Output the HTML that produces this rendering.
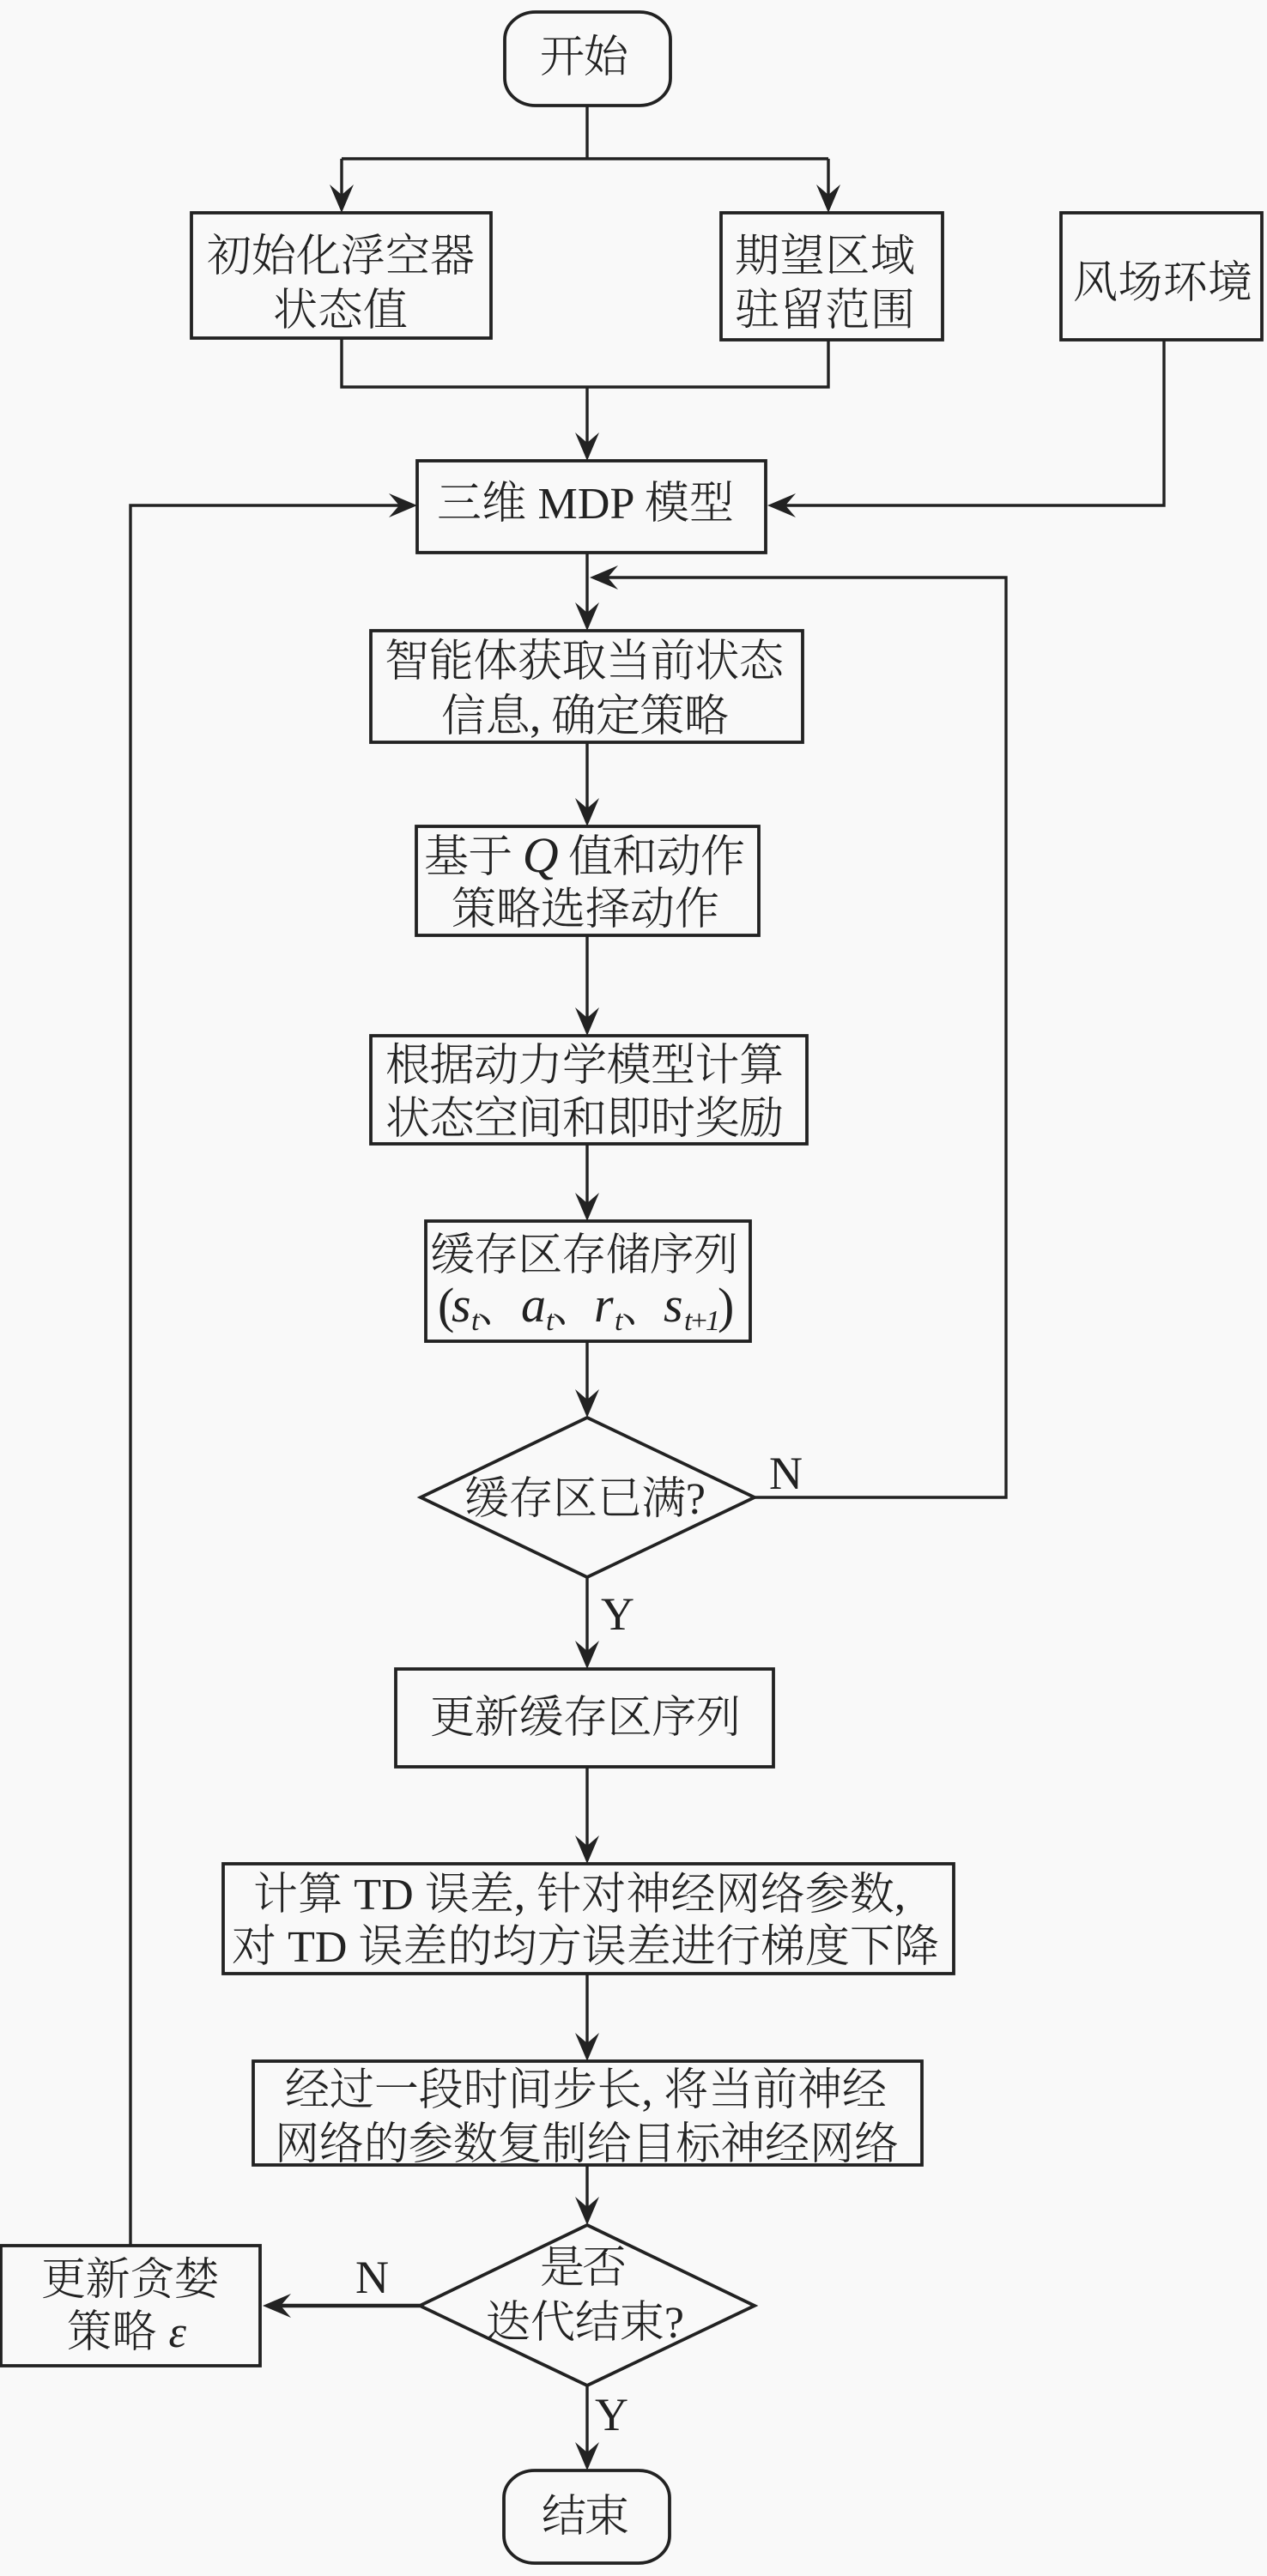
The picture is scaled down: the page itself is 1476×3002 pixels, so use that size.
<!DOCTYPE html>
<html lang="zh">
<head>
<meta charset="utf-8">
<style>
html,body{margin:0;padding:0;background:#f9f9f9}
svg{display:block}
text{font-family:"Liberation Serif","Noto Serif CJK SC",serif;font-size:52px;fill:#222;font-weight:300}
.i{font-style:italic}
.s{font-size:34px}
.m{font-size:58px}
.l{font-size:54px}
.b{fill:none;stroke:#222;stroke-width:3.8;stroke-linejoin:miter}
.c{fill:none;stroke:#222;stroke-width:3.4}
.a{fill:#222}
</style>
</head>
<body>
<svg width="1476" height="3002" viewBox="0 0 1476 3002" xmlns="http://www.w3.org/2000/svg">
<defs>
<path id="d" class="a" d="M0 0 L-14 -33 L0 -21 L14 -33 Z"/>
</defs>
<rect width="1476" height="3002" fill="#f9f9f9"/>

<!-- connectors -->
<path class="c" d="M684 123V185M398 185H965M398 185V240M965 185V240"/>
<path class="c" d="M398 394V451H965V396M684 451V530"/>
<path class="c" d="M1356 396V589H900"/>
<path class="c" d="M152 2617V589H478"/>
<path class="c" d="M684 644V728"/>
<path class="c" d="M879 1745H1172V673H695"/>
<path class="c" d="M684 865V956M684 1090V1200M684 1333V1416M684 1563V1645M684 1838V1940M684 2059V2166M684 2300V2396M684 2523V2586M684 2780V2872"/>
<path class="c" d="M489 2687H315" style="stroke-width:4.5"/>

<!-- arrowheads -->
<use href="#d" x="398" y="248"/>
<use href="#d" x="965" y="248"/>
<use href="#d" x="684" y="537"/>
<use href="#d" x="684" y="735"/>
<use href="#d" x="684" y="963"/>
<use href="#d" x="684" y="1207"/>
<use href="#d" x="684" y="1423"/>
<use href="#d" x="684" y="1652"/>
<use href="#d" x="684" y="1945"/>
<use href="#d" x="684" y="2172"/>
<use href="#d" x="684" y="2402"/>
<use href="#d" x="684" y="2593"/>
<use href="#d" x="684" y="2879"/>
<use href="#d" transform="translate(486 589) rotate(-90)"/>
<use href="#d" transform="translate(894 589) rotate(90)"/>
<use href="#d" transform="translate(687 673) rotate(90)"/>
<use href="#d" transform="translate(306 2687) rotate(90)"/>

<!-- nodes -->
<rect class="b" x="588" y="14" width="193" height="109" rx="36" ry="32"/>
<rect class="b" x="223" y="248" width="349" height="146"/>
<rect class="b" x="840" y="248" width="258" height="148"/>
<rect class="b" x="1236" y="248" width="234" height="148"/>
<rect class="b" x="486" y="537" width="406" height="107"/>
<rect class="b" x="432" y="735" width="503" height="130"/>
<rect class="b" x="485" y="963" width="399" height="127"/>
<rect class="b" x="432" y="1207" width="508" height="126"/>
<rect class="b" x="496" y="1423" width="378" height="140"/>
<path class="b" d="M684 1652L879 1745L684 1838L490 1745Z"/>
<rect class="b" x="461" y="1945" width="440" height="114"/>
<rect class="b" x="260" y="2172" width="851" height="128"/>
<rect class="b" x="295" y="2402" width="779" height="121"/>
<path class="b" d="M684 2593L879 2687L684 2780L489 2687Z"/>
<rect class="b" x="1" y="2617" width="302" height="140"/>
<rect class="b" x="587" y="2879" width="193" height="108" rx="36" ry="32"/>

<!-- labels -->
<text x="629" y="84" textLength="103" lengthAdjust="spacing">开始</text>
<text x="241" y="316" textLength="312" lengthAdjust="spacing">初始化浮空器</text>
<text x="318" y="379" textLength="157" lengthAdjust="spacing">状态值</text>
<text x="856" y="316" textLength="210" lengthAdjust="spacing">期望区域</text>
<text x="856" y="379" textLength="210" lengthAdjust="spacing">驻留范围</text>
<text x="1250" y="347" textLength="209" lengthAdjust="spacing">风场环境</text>
<text x="509" y="604" textLength="346" lengthAdjust="spacing">三维 MDP 模型</text>
<text x="448" y="788" textLength="465" lengthAdjust="spacing">智能体获取当前状态</text>
<text x="514" y="852" textLength="335" lengthAdjust="spacing">信息, 确定策略</text>
<text x="494" y="1016" textLength="374" lengthAdjust="spacing">基于 <tspan class="i m">Q</tspan> 值和动作</text>
<text x="526" y="1077" textLength="312" lengthAdjust="spacing">策略选择动作</text>
<text x="449" y="1259" textLength="464" lengthAdjust="spacing">根据动力学模型计算</text>
<text x="449" y="1321" textLength="464" lengthAdjust="spacing">状态空间和即时奖励</text>
<text x="501" y="1480" textLength="359" lengthAdjust="spacing">缓存区存储序列</text>

<text x="510" y="1541" class="m">(</text>
<text x="526" y="1540" class="i m">s</text>
<text x="549" y="1550" class="i s">t</text>
<text x="556" y="1540">、</text>
<text x="607" y="1540" class="i m">a</text>
<text x="636" y="1550" class="i s">t</text>
<text x="643" y="1540">、</text>
<text x="692" y="1540" class="i m">r</text>
<text x="716" y="1550" class="i s">t</text>
<text x="724" y="1540">、</text>
<text x="773" y="1540" class="i m">s</text>
<text x="797" y="1550" class="i s" textLength="42" lengthAdjust="spacing">t+1</text>
<text x="836" y="1541" class="m">)</text>

<text x="541" y="1764" textLength="281" lengthAdjust="spacing">缓存区已满?</text>
<text x="896" y="1735" class="l">N</text>
<text x="700" y="1899" class="l">Y</text>
<text x="501" y="2019" textLength="362" lengthAdjust="spacing">更新缓存区序列</text>
<text x="295" y="2225" textLength="760" lengthAdjust="spacing">计算 TD 误差, 针对神经网络参数,</text>
<text x="270" y="2286" textLength="824" lengthAdjust="spacing">对 TD 误差的均方误差进行梯度下降</text>
<text x="332" y="2453" textLength="701" lengthAdjust="spacing">经过一段时间步长, 将当前神经</text>
<text x="320" y="2516" textLength="727" lengthAdjust="spacing">网络的参数复制给目标神经网络</text>
<text x="629" y="2660" textLength="101" lengthAdjust="spacing">是否</text>
<text x="566" y="2724" textLength="231" lengthAdjust="spacing">迭代结束?</text>
<text x="48" y="2674" textLength="207" lengthAdjust="spacing">更新贪婪</text>
<text x="78" y="2735" textLength="139" lengthAdjust="spacing">策略 <tspan class="i">ε</tspan></text>
<text x="414" y="2672" class="l">N</text>
<text x="693" y="2832" class="l">Y</text>
<text x="631" y="2950" textLength="102" lengthAdjust="spacing">结束</text>
</svg>
</body>
</html>
